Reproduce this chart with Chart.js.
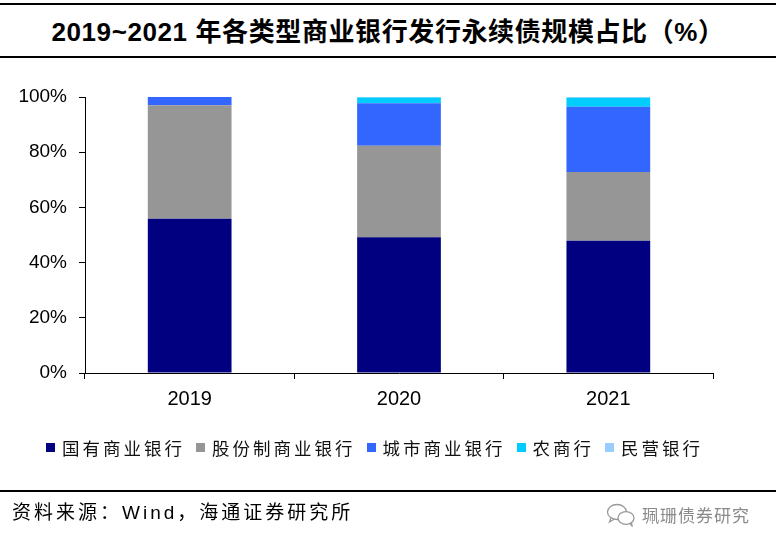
<!DOCTYPE html>
<html lang="zh-CN">
<head>
<meta charset="utf-8">
<title>永续债规模占比</title>
<script src="https://cdn.jsdelivr.net/npm/chart.js@4.4.1/dist/chart.umd.min.js"></script>
<style>
    html, body { margin: 0; padding: 0; background: #fff; }
    #wrap { position: relative; width: 776px; height: 548px; overflow: hidden; font-family: "Liberation Sans", Arial, "Noto Sans CJK SC", sans-serif; }
    #chart-box { position: absolute; left: 0; top: 0; width: 776px; height: 548px; }
    .rule { position: absolute; left: 0; width: 776px; height: 0; border-top: 2px solid #000; }
    #judul { position: absolute; left: 0; top: 16px; width: 776px; text-align: center; font-size: 26px; font-weight: bold; letter-spacing: 0.6px; line-height: 32px; color: #000; }
    #legend { position: absolute; left: 46px; top: 435px; display: flex; align-items: center; font-size: 17.5px; letter-spacing: 3px; color: #111; font-family: "Noto Sans CJK SC", sans-serif; }
    #legend .item { display: flex; align-items: center; margin-right: 11px; }
    #legend .box { width: 9px; height: 9px; margin-right: 7px; }
    #sumber { position: absolute; left: 12px; top: 500px; font-size: 19px; letter-spacing: 3px; color: #000; line-height: 26px; }
    #wm { position: absolute; left: 606px; top: 502px; display: flex; align-items: center; font-size: 17px; color: #8a8a8a; letter-spacing: 1px; font-family: "Noto Sans CJK SC", sans-serif; }
    #wm svg { margin-right: 6px; }
</style>
</head>
<body>
<div id="wrap">
    <div class="rule" style="top:3px"></div>
    <div id="judul">2019~2021 年各类型商业银行发行永续债规模占比（%）</div>
    <div class="rule" style="top:56px"></div>
    <div id="chart-box"><canvas id="permanenChart"></canvas></div>
    <div id="legend"></div>
    <div class="rule" style="top:490px"></div>
    <div id="sumber">资料来源：Wind，海通证券研究所</div>
    <div id="wm">
        <svg width="30" height="24" viewBox="0 0 30 24" fill="none" stroke="#9a9a9a" stroke-width="1.3">
            <ellipse cx="11" cy="9" rx="9.5" ry="7.5"/>
            <path d="M5 15 L3.5 19 L8.5 16"/>
            <ellipse cx="20" cy="15" rx="8" ry="6.3" fill="#fff"/>
            <path d="M24 20.5 L26 23 L25.5 19.5"/>
        </svg>
        <span>珮珊债券研究</span>
    </div>
</div>
<script>
// kategori (tahun) dan nilai tiap seri (%)
const tahun = ['2019', '2020', '2021'];
const seriNama = ['国有商业银行', '股份制商业银行', '城市商业银行', '农商行', '民营银行'];
const guoyou = [55.9, 49.2, 47.9];
const gufen = [41.1, 33.1, 24.9];
const chengshi = [3.0, 15.4, 23.7];
const nongshang = [0, 2.1, 3.2];
const minying = [0, 0.2, 0.3];
const warna = ['#000080', '#969696', '#3366FF', '#00CCFF', '#99CCFF'];
const yTicks = [0, 20, 40, 60, 80, 100];

const seriData = [guoyou, gufen, chengshi, nongshang, minying];

function buildLegend() {
    const el = document.getElementById('legend');
    el.innerHTML = seriNama.map((nm, i) => `<div class="item"><div class="box" style="background:${warna[i]}"></div><span>${nm}</span></div>`).join('');
}

function renderChart() {
    const ctx = document.getElementById('permanenChart').getContext('2d');
    new Chart(ctx, {
        type: 'bar',
        data: {
            labels: tahun,
            datasets: seriNama.map((nm, i) => ({
                label: nm,
                data: seriData[i],
                backgroundColor: warna[i],
                borderWidth: 0,
                barPercentage: 0.4,
                categoryPercentage: 1.0
            }))
        },
        options: {
            responsive: true,
            maintainAspectRatio: false,
            animation: false,
            layout: { padding: { left: 0, right: 63, top: 97, bottom: 130 } },
            plugins: { legend: { display: false }, tooltip: { enabled: false } },
            scales: {
                x: {
                    stacked: true,
                    grid: { display: true, drawOnChartArea: false, drawTicks: true, tickLength: 6, color: '#000', offset: true },
                    border: { display: true, color: '#000', width: 1 },
                    ticks: { color: '#000', padding: 8, font: { family: '"Liberation Sans", Arial', size: 20 } },
                    afterFit: (s) => { s.height = 45; }
                },
                y: {
                    stacked: true,
                    min: 0,
                    max: 100,
                    afterBuildTicks: (s) => { s.ticks = yTicks.map(v => ({ value: v })); },
                    grid: { display: true, drawOnChartArea: false, drawTicks: true, tickLength: 6, color: '#000' },
                    border: { display: true, color: '#000', width: 1 },
                    ticks: { color: '#000', padding: 12, font: { family: '"Liberation Sans", Arial', size: 19 }, callback: (v) => v + '%' },
                    afterFit: (s) => { s.width = 85; }
                }
            }
        }
    });
}

buildLegend();
renderChart();
</script>
</body>
</html>
